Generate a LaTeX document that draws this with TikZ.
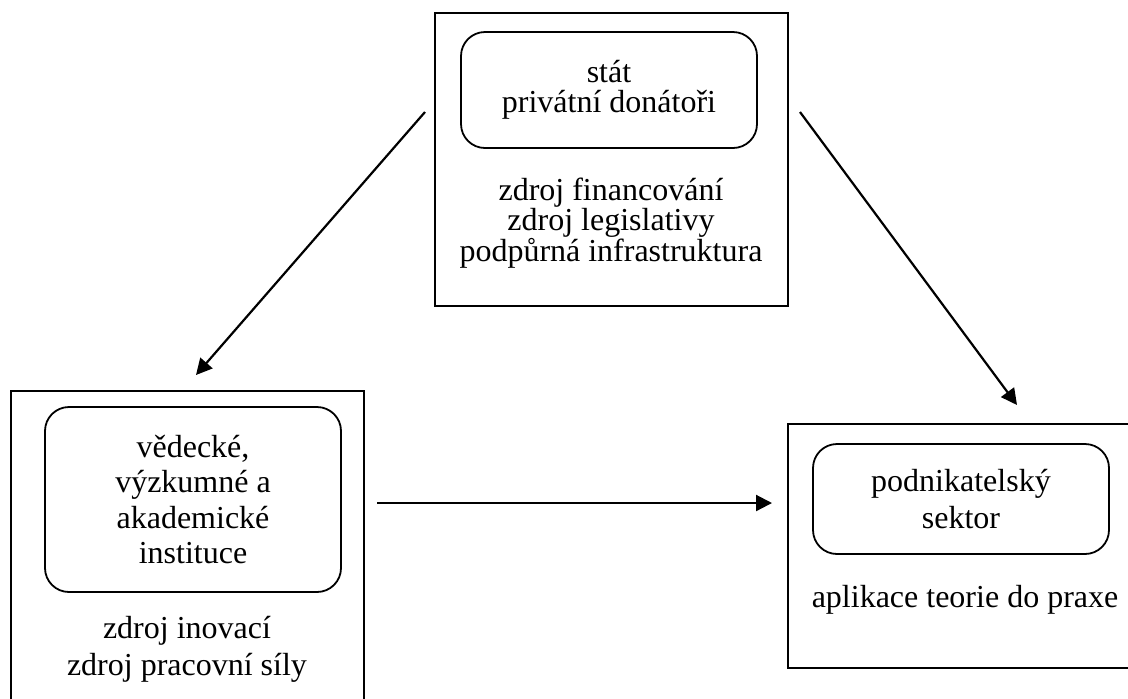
\documentclass[tikz,border=0pt]{standalone}
\usepackage{fontspec}
\setmainfont{Liberation Serif}
\usetikzlibrary{calc, positioning}
\usetikzlibrary{arrows.meta}

\newcommand\tightlines{\lineskiplimit=-10pt\relax}

\tikzset{
    outerbox/.style={draw, line width=1pt, inner sep=0pt},
    innerbox/.style={draw, line width=0.9pt, rounded corners=12pt, inner sep=0pt,
        minimum width=148pt, align=center},
    txt/.style={align=center, inner sep=0pt},
    flow/.style={-{Triangle[length=8pt,width=8pt]}, line width=1.1pt}
}

\begin{document}
\begin{tikzpicture}[x=0.5pt, y=-0.5pt]
\useasboundingbox (0,0) rectangle (1128,698);

% top: stat
\node[outerbox, minimum width=176.5pt, minimum height=146.5pt] (nTopBox) at (611.5,159.5) {};
\node[innerbox, minimum height=58pt, font=\fontsize{16}{15}\selectfont] (nTopIn) at (609,90)
    {stát\\privátní donátoři};
\node[txt, font=\fontsize{16}{15.2}\selectfont\tightlines] (nTopTxt) at (611,223)
    {zdroj financování\\zdroj legislativy\\podpůrná infrastruktura};

% left: instituce
\node[outerbox, minimum width=176.5pt, minimum height=157pt] (nLeftBox) at (187.5,548) {};
\node[innerbox, minimum height=92.5pt, font=\fontsize{16}{17.7}\selectfont] (nLeftIn) at (193,499.5)
    {vědecké,\\výzkumné a\\akademické\\instituce};
\node[txt, font=\fontsize{16}{18.5}\selectfont] (nLeftTxt) at (187,649)
    {zdroj inovací\\zdroj pracovní síly};

% right: podniky
\node[outerbox, minimum width=173.5pt, minimum height=122pt] (nRightBox) at (961.5,546) {};
\node[innerbox, minimum height=55pt, font=\fontsize{16}{18.5}\selectfont] (nRightIn) at (961,499)
    {podnikatelský\\sektor};
\node[txt, font=\fontsize{16}{18}\selectfont] (nRightTxt) at (965,600)
    {aplikace teorie do praxe};

\coordinate (cTopLS) at (425,112);
\coordinate (cTopLE) at (196,375);
\coordinate (cTopRS) at (800,112);
\coordinate (cTopRE) at (1017,405);
\coordinate (cMidS) at (377,503);
\coordinate (cMidE) at (772,503);

\foreach \s/\e in
{   cTopLS/cTopLE,
    cTopRS/cTopRE,
    cMidS/cMidE}
{
    \draw[flow] (\s) -- (\e);
};

\end{tikzpicture}
\end{document}
